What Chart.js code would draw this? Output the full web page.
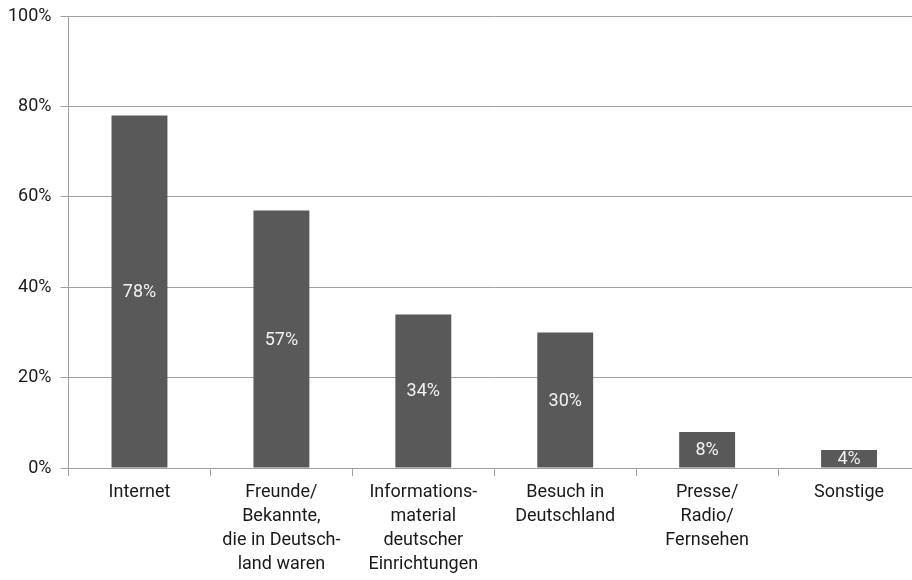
<!DOCTYPE html>
<html>
<head>
<meta charset="utf-8">
<script src="https://cdn.jsdelivr.net/npm/chart.js@4"></script>
<style>
  html, body { margin: 0; padding: 0; background: #ffffff; overflow: hidden; }
  #wrap { width: 912px; height: 580px; overflow: hidden; position: relative; }
  #box { width: 920px; height: 580px; position: absolute; left: 0; top: 0; }
</style>
</head>
<body>
<div id="wrap"><div id="box"><canvas id="c"></canvas></div></div>
<script>
// Informationsquellen (Anteil in Prozent)
const categories = [
  ['Internet'],
  ['Freunde/', 'Bekannte,', 'die in Deutsch-', 'land waren'],
  ['Informations-', 'material', 'deutscher', 'Einrichtungen'],
  ['Besuch in', 'Deutschland'],
  ['Presse/', 'Radio/', 'Fernsehen'],
  ['Sonstige']
];
const values = [78, 57, 34, 30, 8, 4];
const yTicks = [0, 20, 40, 60, 80, 100];

const FONT = 'Roboto, "Liberation Sans", sans-serif';

// Writes each bar's value in the middle of the bar
const barValueLabels = {
  id: 'barValueLabels',
  afterDatasetsDraw(chart) {
    const ctx = chart.ctx;
    const meta = chart.getDatasetMeta(0);
    ctx.save();
    ctx.fillStyle = '#f2f2f2';
    ctx.font = '18px ' + FONT;
    ctx.textAlign = 'center';
    ctx.textBaseline = 'middle';
    meta.data.forEach((bar, i) => {
      const mid = (bar.y + bar.base) / 2;
      ctx.fillText(values[i] + '%', bar.x, mid + 1);
    });
    ctx.restore();
  }
};

new Chart(document.getElementById('c'), {
  type: 'bar',
  data: {
    labels: categories,
    datasets: [{
      data: values,
      backgroundColor: '#595959',
      borderWidth: 0,
      barPercentage: 0.394,
      categoryPercentage: 1.0
    }]
  },
  options: {
    responsive: true,
    maintainAspectRatio: false,
    animation: false,
    layout: { padding: { top: 0, left: -1, right: 0, bottom: 0 } },
    plugins: { legend: { display: false }, tooltip: { enabled: false } },
    scales: {
      x: {
        offset: true,
        grid: {
          display: true,
          offset: true,
          drawOnChartArea: false,
          drawTicks: true,
          tickLength: 8,
          color: '#a0a0a0',
          lineWidth: 1
        },
        border: { display: true, color: '#a0a0a0', width: 1 },
        ticks: {
          color: '#1a1a1a',
          font: { family: FONT, size: 18, lineHeight: 1.333 },
          padding: 4,
          maxRotation: 0,
          autoSkip: false
        }
      },
      y: {
        min: 0,
        max: 100,
        afterBuildTicks(scale) {
          scale.ticks = yTicks.map(v => ({ value: v }));
        },
        grid: {
          color: '#a0a0a0',
          lineWidth: 1,
          drawTicks: true,
          tickLength: 8
        },
        border: { display: true, color: '#a0a0a0', width: 1 },
        ticks: {
          color: '#1a1a1a',
          font: { family: FONT, size: 18, lineHeight: 0.8 },
          padding: 9,
          callback: v => v + '%'
        }
      }
    }
  },
  plugins: [barValueLabels]
});
</script>
</body>
</html>
